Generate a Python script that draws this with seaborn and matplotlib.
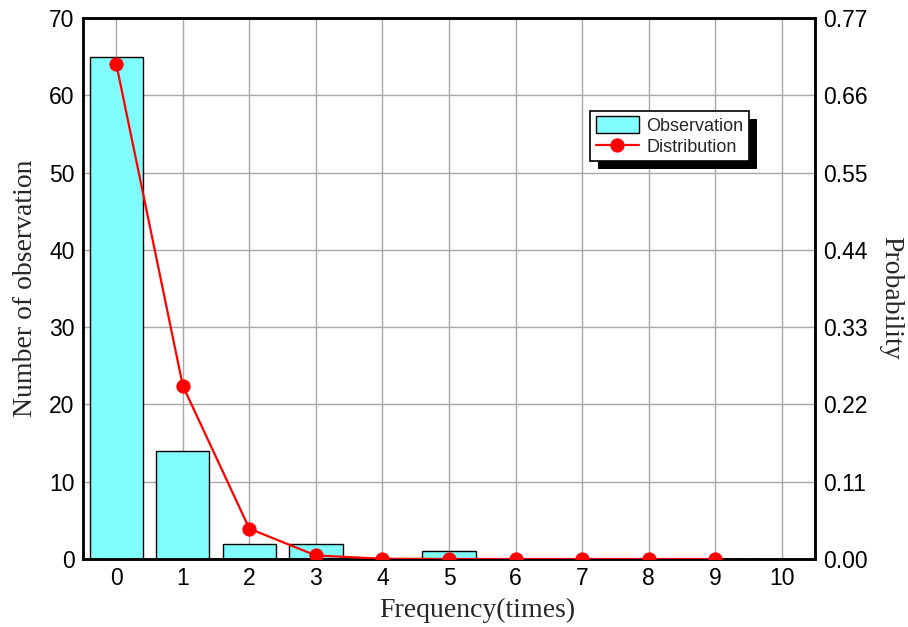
import matplotlib
matplotlib.use("Agg")
import matplotlib.pyplot as plt
from matplotlib.patches import Rectangle
import seaborn as sns
import pandas as pd

# Observed counts per frequency and the fitted probability distribution
frequency = [0, 1, 2, 3, 4, 5, 6, 7, 8, 9, 10]
observations = [65, 14, 2, 2, 0, 1, 0, 0, 0, 0, 0]
dist_x = [0, 1, 2, 3, 4, 5, 6, 7, 8, 9]
probability = [0.7047, 0.2466, 0.0432, 0.0050, 0.0004, 0.0, 0.0, 0.0, 0.0, 0.0]

sns.set_theme(style="white")
plt.rcParams["font.family"] = ["Liberation Sans", "DejaVu Sans"]

fig = plt.figure(figsize=(9.08, 6.27), dpi=100)
ax = fig.add_axes([83 / 908, 1 - 559 / 627, 732 / 908, 541 / 627])

obs_df = pd.DataFrame({"freq": frequency, "count": observations})
sns.barplot(data=obs_df, x="freq", y="count", native_scale=True, width=0.8,
            color="#80fcfd", saturation=1, edgecolor="black", linewidth=1,
            ax=ax, zorder=2, label="Observation")

ax.set_xlim(-0.5, 10.5)
ax.set_ylim(0, 70)
ax.set_xticks(range(0, 11))
ax.set_yticks(range(0, 71, 10))
ax.grid(True, color="#a8a8a8", linewidth=1)
ax.set_axisbelow(True)
ax.tick_params(length=0, labelsize=16.5, pad=6, colors="black")
ax.set_xlabel("Frequency(times)", family=["Liberation Serif"], fontsize=20, labelpad=4)
ax.xaxis.set_label_coords(0.538, -0.072)
ax.set_ylabel("Number of observation", family=["Liberation Serif"], fontsize=20, labelpad=8)

ax2 = ax.twinx()
dist_df = pd.DataFrame({"freq": dist_x, "prob": probability})
sns.lineplot(data=dist_df, x="freq", y="prob", color="red", linewidth=1.6,
             marker="o", markersize=9.5, markeredgecolor="red", ax=ax2,
             label="Distribution", zorder=3)
ax2.set_ylim(0, 0.77)
ax2.set_yticks([0.0, 0.11, 0.22, 0.33, 0.44, 0.55, 0.66, 0.77])
ax2.set_yticklabels([f"{v:.2f}" for v in ax2.get_yticks()])
ax2.tick_params(length=0, labelsize=16.5, pad=6, colors="black")
ax2.set_xlabel("")
ax2.set_ylabel("Probability", family=["Liberation Serif"], fontsize=20,
               rotation=270, labelpad=22)
ax2.yaxis.set_label_coords(1.121, 0.483)

for a in (ax, ax2):
    for s in a.spines.values():
        s.set_color("black")
        s.set_linewidth(1.8)

if ax.get_legend() is not None:
    ax.get_legend().remove()
h1, l1 = ax.get_legend_handles_labels()
h2, l2 = ax2.get_legend_handles_labels()
leg = ax2.legend(h1 + h2, l1 + l2, loc="upper left", bbox_to_anchor=(0.693, 0.828),
                 borderaxespad=0, frameon=True, fancybox=False, edgecolor="black",
                 framealpha=1, fontsize=13, handlelength=2.4, handleheight=1.0,
                 handletextpad=0.4, borderpad=0.3, labelspacing=0.15)
leg.get_frame().set_linewidth(1.2)

# solid drop shadow behind the legend box
fig.canvas.draw()
bb = leg.get_window_extent()
shadow = Rectangle((bb.x0 + 8, bb.y0 - 8), bb.width, bb.height, transform=None,
                   facecolor="black", edgecolor="none", zorder=4.9, clip_on=False)
ax2.add_artist(shadow)

fig.savefig("out.png", dpi=100)
